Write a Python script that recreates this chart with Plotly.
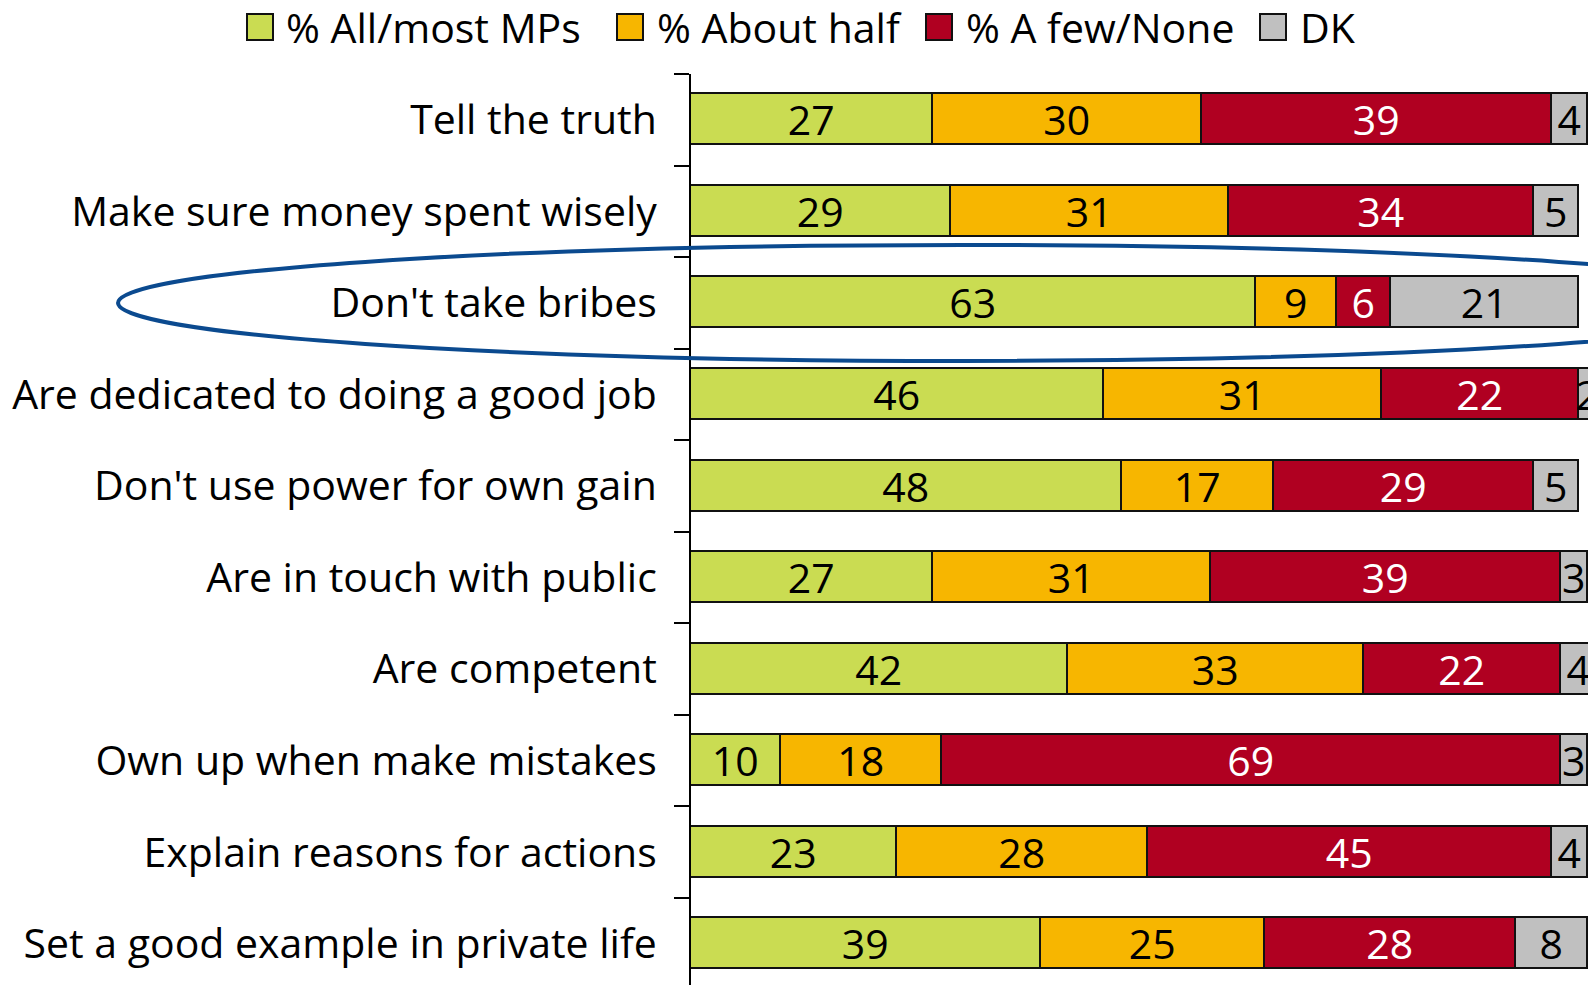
import plotly.graph_objects as go

categories = [
    "Tell the truth",
    "Make sure money spent wisely",
    "Don't take bribes",
    "Are dedicated to doing a good job",
    "Don't use power for own gain",
    "Are in touch with public",
    "Are competent",
    "Own up when make mistakes",
    "Explain reasons for actions",
    "Set a good example in private life",
]
series_names = ["% All/most MPs", "% About half", "% A few/None", "DK"]
all_most = [27, 29, 63, 46, 48, 27, 42, 10, 23, 39]
about_half = [30, 31, 9, 31, 17, 31, 33, 18, 28, 25]
few_none = [39, 34, 6, 22, 29, 39, 22, 69, 45, 28]
dont_know = [4, 5, 21, 2, 5, 3, 4, 3, 4, 8]
highlight = "Don't take bribes"

series_values = [all_most, about_half, few_none, dont_know]
colors = ["#CADC52", "#F7B600", "#B00021", "#C0C0C0"]
text_colors = ["black", "black", "white", "black"]

FONT = "Open Sans"
FS = 41

W, H = 1588, 985
ML, MT = 691, 74
PW, PH = W - ML, H - MT
ROW_PX = 91.56

rows = list(range(len(categories)))
y_bottom = -0.5 + PH / ROW_PX

fig = go.Figure()
for name, vals, col, tcol in zip(series_names, series_values, colors, text_colors):
    fig.add_trace(go.Bar(
        y=rows, x=vals, name=name, orientation="h", width=0.557,
        marker=dict(color=col, line=dict(color="#111111", width=1.6)),
        text=[str(v) for v in vals], textposition="inside",
        insidetextanchor="middle", constraintext="none", textangle=0,
        insidetextfont=dict(family=FONT, size=FS, color=tcol),
        showlegend=False, hoverinfo="skip",
    ))

def px_to_paper_x(px):
    return (px - ML) / PW

def px_to_paper_y(py):
    return 1 - (py - MT) / PH

shapes = []
annotations = []
# manual legend (pixel positions)
sym_left = [247, 617, 926, 1260]
text_left = [284, 655, 964, 1298]
for name, col, sl, tl in zip(series_names, colors, sym_left, text_left):
    shapes.append(dict(
        type="rect", xref="paper", yref="paper",
        x0=px_to_paper_x(sl), x1=px_to_paper_x(sl + 26),
        y0=px_to_paper_y(40), y1=px_to_paper_y(14),
        fillcolor=col, line=dict(color="#111111", width=2), layer="above",
    ))
    annotations.append(dict(
        text=name, xref="paper", yref="paper",
        x=px_to_paper_x(tl), y=px_to_paper_y(27),
        xanchor="left", yanchor="middle", showarrow=False,
        font=dict(family=FONT, size=FS, color="black"),
    ))

# highlight ellipse around a row
hi = categories.index(highlight)
cy = MT + (hi + 0.5) * ROW_PX
shapes.append(dict(
    type="circle", xref="paper", yref="paper",
    x0=px_to_paper_x(118), x1=px_to_paper_x(1806),
    y0=px_to_paper_y(cy + 58), y1=px_to_paper_y(cy - 58),
    line=dict(color="#0B4A8F", width=4), fillcolor="rgba(0,0,0,0)", layer="above",
))

fig.update_layout(
    width=W, height=H,
    margin=dict(l=ML, r=0, t=MT, b=0, pad=0),
    barmode="stack",
    plot_bgcolor="white", paper_bgcolor="white",
    bargap=0,
    shapes=shapes, annotations=annotations,
    font=dict(family=FONT, size=FS, color="black"),
    xaxis=dict(range=[0, 100], visible=False, fixedrange=True),
    yaxis=dict(
        range=[y_bottom, -0.5],
        tickmode="array", tickvals=rows, ticktext=categories,
        ticks="outside", ticklen=15, tickcolor="rgba(0,0,0,0)",
        ticklabelstandoff=9,
        tickfont=dict(family=FONT, size=FS, color="black"),
        showline=True, linecolor="black", linewidth=2,
        showgrid=False, zeroline=False, fixedrange=True,
        minor=dict(
            tickmode="array", tickvals=[r - 0.5 for r in rows],
            ticks="outside", ticklen=15, tickcolor="black", tickwidth=2,
            showgrid=False,
        ),
    ),
)

fig.write_html(
    "out.html",
    config={"displayModeBar": False},
    post_script=(
        "document.body.style.margin='0';"
        "document.body.style.overflow='hidden';"
        "document.documentElement.style.overflow='hidden';"
    ),
)
